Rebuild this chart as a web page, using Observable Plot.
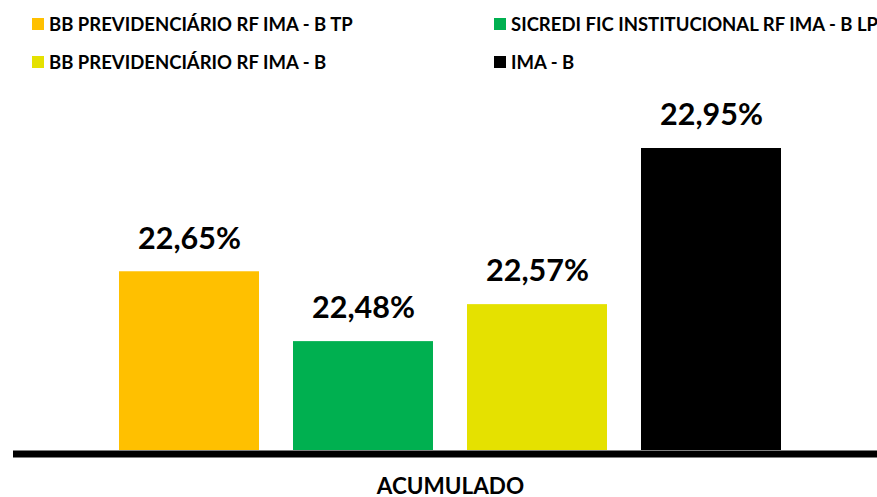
<!DOCTYPE html>
<html>
<head>
<meta charset="utf-8">
<script src="https://cdn.jsdelivr.net/npm/d3@7"></script>
<script src="https://cdn.jsdelivr.net/npm/@observablehq/plot@0.6"></script>
<style>
  html, body { margin: 0; padding: 0; background: #fff; }
  #wrap { position: relative; width: 877px; height: 497px; font-family: Lato, "Open Sans", sans-serif; }
  #legend { position: absolute; left: 0; top: 0; width: 877px; height: 80px; }
  .item { position: absolute; display: flex; align-items: center; font-weight: 700; font-size: 18.5px; color: #000; white-space: nowrap; line-height: 1; }
  .sw { width: 12px; height: 12px; margin-right: 5px; flex: none; }
  #chart { position: absolute; left: 0; top: 80px; }
  #chart svg { overflow: visible; }
</style>
</head>
<body>
<div id="wrap">
  <div id="legend"></div>
  <div id="chart"></div>
</div>
<script>
const series = ["BB PREVIDENCIÁRIO RF IMA - B TP", "SICREDI FIC INSTITUCIONAL RF IMA - B LP", "BB PREVIDENCIÁRIO RF IMA - B", "IMA - B"];
const values = [22.65, 22.48, 22.57, 22.95];
const colors = ["#FFC000", "#00B050", "#E5E100", "#000000"];
const category = "ACUMULADO";
const yMin = 22.215;

const data = series.map((s, i) => ({series: s, value: values[i], color: colors[i]}));
const fmt = v => v.toFixed(2).replace(".", ",") + "%";

// Legend (2 columns x 2 rows, filled row by row)
const legend = document.getElementById("legend");
const colX = [32, 494];
const rowY = [24, 62];
series.forEach((s, i) => {
  const el = document.createElement("div");
  el.className = "item";
  el.style.left = colX[i % 2] + "px";
  el.style.top = (rowY[Math.floor(i / 2)] - 10) + "px";
  el.style.height = "20px";
  el.innerHTML = `<span class="sw" style="background:${colors[i]}"></span><span>${s}</span>`;
  legend.appendChild(el);
});

const chart = Plot.plot({
  width: 877,
  height: 417,
  marginLeft: 13,
  marginRight: 0,
  marginTop: 68,
  marginBottom: 47,
  style: {fontFamily: "Lato, 'Open Sans', sans-serif", background: "transparent"},
  x: {domain: series, paddingInner: 0.197, paddingOuter: 0.577, align: 0.522, axis: null},
  y: {domain: [yMin, 22.95], axis: null, clamp: false},
  marks: [
    Plot.barY(data, {x: "series", y1: yMin, y2: "value", fill: "color"}),
    Plot.ruleY([yMin], {stroke: "#000", strokeWidth: 7, dy: 3.5}),
    Plot.text(data, {x: "series", y: "value", text: d => fmt(d.value), dy: -33, lineAnchor: "middle", fontSize: 30.5, fontWeight: 700, fill: "#000"}),
    Plot.text([category], {frameAnchor: "bottom", dx: 5, dy: 36, lineAnchor: "middle", fontSize: 22.5, fontWeight: 700, fill: "#000"})
  ]
});
document.getElementById("chart").appendChild(chart);
</script>
</body>
</html>
